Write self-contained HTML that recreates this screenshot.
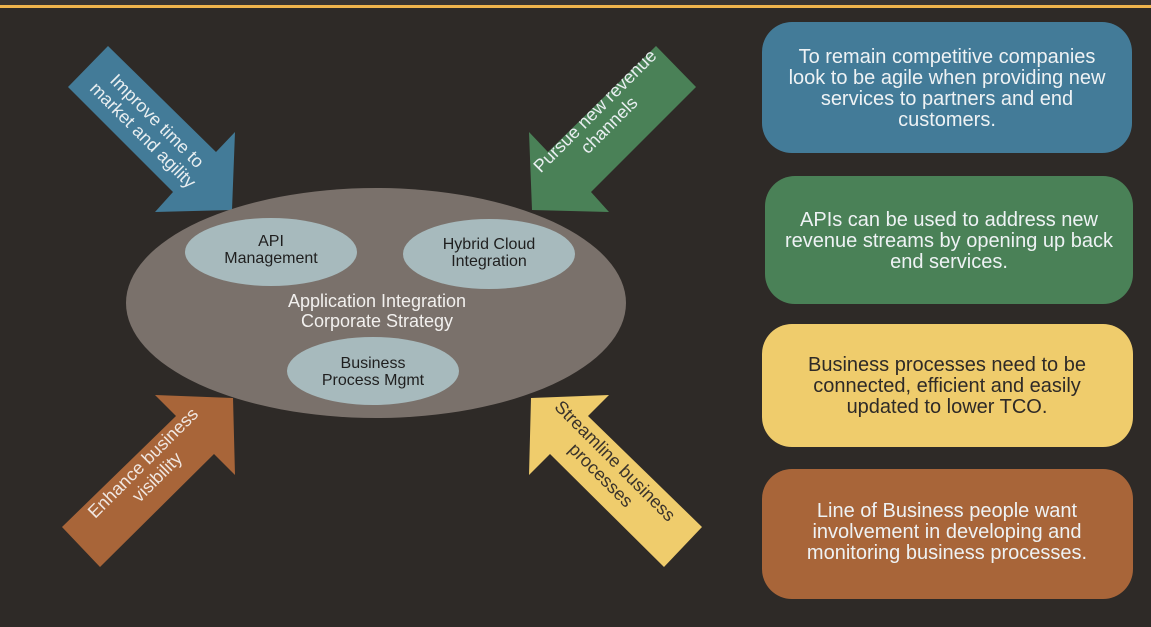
<!DOCTYPE html>
<html><head><meta charset="utf-8"><style>
html,body{margin:0;padding:0;background:#2e2a27;}
svg{display:block}
text{font-family:"Liberation Sans","DejaVu Sans",sans-serif;}
</style></head><body>
<svg width="1151" height="627" viewBox="0 0 1151 627" xmlns="http://www.w3.org/2000/svg">
<rect width="1151" height="627" fill="#2e2a27"/>
<rect width="1151" height="5" fill="#3a3430"/>
<rect y="5" width="1151" height="3" fill="#f0b44c"/>

<polygon points="68,87 108,46 216,152 235,132 232,210 155,212 173,192" fill="#437b98"/>
<polygon points="696,87 656,46 548,152 529,132 532,210 609,212 591,192" fill="#4a8157"/>
<polygon points="62,527 100,567 214,454 235,475 233,398 155,395 176,416" fill="#a86539"/>
<polygon points="702,527 664,567 550,454 529,475 531,398 609,395 588,416" fill="#efcc6c"/>

<g transform="translate(150,128) rotate(45)" fill="#e8eef0" font-size="18" text-anchor="middle">
<text x="0" y="-4">Improve time to</text><text x="0" y="16">market and agility</text></g>
<g transform="translate(602,118) rotate(-45)" fill="#e8eef0" font-size="18" text-anchor="middle">
<text x="0" y="-4">Pursue new revenue</text><text x="0" y="16">channels</text></g>
<g transform="translate(150,470) rotate(-45)" fill="#f0e6e0" font-size="18" text-anchor="middle">
<text x="0" y="-4">Enhance business</text><text x="0" y="16">visibility</text></g>
<g transform="translate(608,468) rotate(45)" fill="#3a332b" font-size="18" text-anchor="middle">
<text x="0" y="-4">Streamline business</text><text x="0" y="16">processes</text></g>

<ellipse cx="376" cy="303" rx="250" ry="115" fill="#7a716b"/>
<ellipse cx="271" cy="252" rx="86" ry="34" fill="#a7babd"/>
<ellipse cx="489" cy="254" rx="86" ry="35" fill="#a7babd"/>
<ellipse cx="373" cy="371" rx="86" ry="34" fill="#a7babd"/>
<g font-size="16" fill="#1f1f1f" text-anchor="middle">
<text x="271" y="246">API</text><text x="271" y="263">Management</text>
<text x="489" y="249">Hybrid Cloud</text><text x="489" y="266">Integration</text>
<text x="373" y="368">Business</text><text x="373" y="385">Process Mgmt</text>
</g>
<g font-size="18" fill="#f2f0ee" text-anchor="middle">
<text x="377" y="307">Application Integration</text><text x="377" y="327">Corporate Strategy</text>
</g>

<rect x="762" y="22" width="370" height="131" rx="30" fill="#437b98"/>
<rect x="765" y="176" width="368" height="128" rx="30" fill="#4a8157"/>
<rect x="762" y="324" width="371" height="123" rx="30" fill="#efcc6c"/>
<rect x="762" y="469" width="371" height="130" rx="30" fill="#a86539"/>
<g font-size="20" fill="#eef2f4" text-anchor="middle">
<text x="947" y="63">To remain competitive companies</text>
<text x="947" y="84">look to be agile when providing new</text>
<text x="947" y="105">services to partners and end</text>
<text x="947" y="126">customers.</text>
<text x="949" y="226">APIs can be used to address new</text>
<text x="949" y="247">revenue streams by opening up back</text>
<text x="949" y="268">end services.</text>
<text x="947" y="517">Line of Business people want</text>
<text x="947" y="538">involvement in developing and</text>
<text x="947" y="559">monitoring business processes.</text>
</g>
<g font-size="20" fill="#2e2a27" text-anchor="middle">
<text x="947" y="371">Business processes need to be</text>
<text x="947" y="392">connected, efficient and easily</text>
<text x="947" y="413">updated to lower TCO.</text>
</g>
</svg>
</body></html>
